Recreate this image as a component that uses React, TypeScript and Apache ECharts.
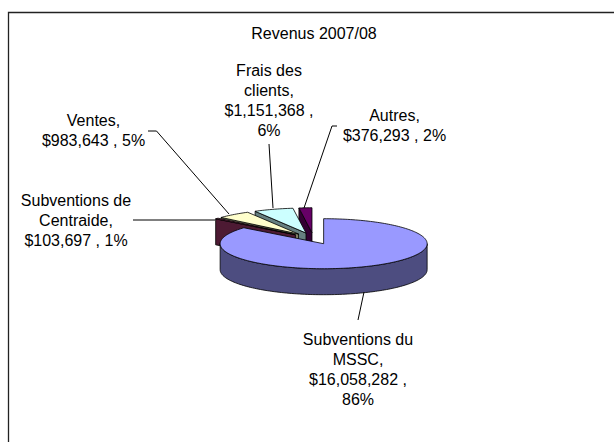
import React, { useEffect, useRef } from 'react';
import * as echarts from 'echarts';

// ---- data ----
const TITLE = 'Revenus 2007/08';
const CATEGORIES = [
  'Subventions du MSSC',
  'Subventions de Centraide',
  'Ventes',
  'Frais des clients',
  'Autres',
];
const VALUES = [16058282, 103697, 983643, 1151368, 376293];

// ---- styles / layout ----
const TOP_COLORS = ['#9999FF', '#993366', '#FFFFCC', '#CCFFFF', '#660066'];
const SIDE_COLORS = ['#4D4D80', '#4D1A33', '#808066', '#668080', '#330033'];
const LABEL_CENTERS = [
  [358, 369],
  [76, 220],
  [93.5, 130],
  [269, 100],
  [394.5, 125],
];
const LABEL_WIDTHS = [120, 115, 110, 105, 110];
const LEADERS = [
  [[364, 292], [358, 320]],
  [[133, 220], [215, 220]],
  [[148, 131], [156.5, 131], [229, 214]],
  [[269, 144], [273, 208]],
  [[337, 126], [332, 126], [304, 208]],
];

const CX = 313.5;
const CY = 238.5;
const RX = 103.5;
const RY = 25;
const DEPTH = 26;
const EXPLODE = 0.23;
const FONT_FAMILY = '"Liberation Sans", Arial, sans-serif';
const FONT_SIZE = 16;

const TOTAL = VALUES.reduce((a, b) => a + b, 0);

let measureCtx: CanvasRenderingContext2D | null = null;
function textWidth(s: string) {
  if (!measureCtx) {
    measureCtx = document.createElement('canvas').getContext('2d');
  }
  if (!measureCtx) return s.length * FONT_SIZE * 0.55;
  measureCtx.font = `${FONT_SIZE}px ${FONT_FAMILY}`;
  return measureCtx.measureText(s).width;
}

function wrap(text: string, width: number) {
  const words = text.split(' ');
  const lines: string[] = [];
  let cur = '';
  for (const w of words) {
    const cand = cur ? cur + ' ' + w : w;
    if (cur && textWidth(cand) > width) {
      lines.push(cur);
      cur = w;
    } else {
      cur = cand;
    }
  }
  if (cur) lines.push(cur);
  return lines.join('\n');
}

function sliceAngles(i: number) {
  let start = 0;
  for (let k = 0; k < i; k++) start += VALUES[k];
  const a0 = (start / TOTAL) * Math.PI * 2;
  const a1 = ((start + VALUES[i]) / TOTAL) * Math.PI * 2;
  return [a0, a1];
}

function renderItem(params: any, api: any) {
  const i = params.dataIndex;
  const value = api.value(0);
  const [a0, a1] = sliceAngles(i);
  const mid = (a0 + a1) / 2;

  // depth rank: back first
  const mids = VALUES.map((_, k) => {
    const [b0, b1] = sliceAngles(k);
    return -Math.cos((b0 + b1) / 2);
  });
  const sorted = mids
    .map((m, k) => [m, k])
    .sort((p, q) => p[0] - q[0])
    .map((p) => p[1]);
  const rank = sorted.indexOf(i);

  const ox = CX + EXPLODE * RX * Math.sin(mid);
  const oy = CY - EXPLODE * RY * Math.cos(mid);
  const pt = (t: number, dz: number) => [ox + RX * Math.sin(t), oy - RY * Math.cos(t) + dz];
  const arc = (from: number, to: number, dz: number) => {
    const n = Math.max(2, Math.ceil(Math.abs(to - from) / (Math.PI / 120)));
    const out: number[][] = [];
    for (let s = 0; s <= n; s++) out.push(pt(from + ((to - from) * s) / n, dz));
    return out;
  };

  const stroke = { stroke: '#000', lineWidth: 0.8, lineJoin: 'round' };
  const children: any[] = [];

  if (Math.sin(a0) < -1e-6) {
    children.push({
      type: 'polygon',
      z2: rank * 10 + 1,
      shape: { points: [[ox, oy], pt(a0, 0), pt(a0, DEPTH), [ox, oy + DEPTH]] },
      style: { fill: SIDE_COLORS[i], ...stroke },
    });
  }
  if (Math.sin(a1) > 1e-6) {
    children.push({
      type: 'polygon',
      z2: rank * 10 + 1,
      shape: { points: [[ox, oy], pt(a1, 0), pt(a1, DEPTH), [ox, oy + DEPTH]] },
      style: { fill: SIDE_COLORS[i], ...stroke },
    });
  }
  const s = Math.max(a0, Math.PI / 2);
  const e = Math.min(a1, (Math.PI * 3) / 2);
  if (e > s) {
    const pts = arc(s, e, 0).concat(arc(e, s, DEPTH));
    children.push({
      type: 'polygon',
      z2: rank * 10 + 2,
      shape: { points: pts },
      style: { fill: SIDE_COLORS[i], ...stroke },
    });
  }
  children.push({
    type: 'polygon',
    z2: rank * 10 + 3,
    shape: { points: [[ox, oy]].concat(arc(a0, a1, 0)) },
    style: { fill: TOP_COLORS[i], ...stroke },
  });

  const pct = Math.round((value / TOTAL) * 100);
  const raw = `${CATEGORIES[i]}, $${Number(value).toLocaleString('en-US')} , ${pct}%`;
  children.push({
    type: 'text',
    z2: 100,
    x: LABEL_CENTERS[i][0],
    y: LABEL_CENTERS[i][1],
    style: {
      text: wrap(raw, LABEL_WIDTHS[i]),
      fill: '#000',
      fontSize: FONT_SIZE,
      fontFamily: FONT_FAMILY,
      align: 'center',
      verticalAlign: 'middle',
      lineHeight: 20,
    },
  });
  children.push({
    type: 'polyline',
    z2: 99,
    shape: { points: LEADERS[i] },
    style: { stroke: '#000', lineWidth: 1, fill: 'none' },
  });

  return { type: 'group', children };
}

export default function App() {
  const ref = useRef<HTMLDivElement>(null);
  useEffect(() => {
    if (!ref.current) return;
    const chart = echarts.init(ref.current, null, { renderer: 'svg' });
    chart.setOption({
      animation: false,
      backgroundColor: '#ffffff',
      graphic: [
        {
          type: 'rect',
          shape: { x: 8.5, y: 12.5, width: 700, height: 600 },
          style: { fill: 'none', stroke: '#222', lineWidth: 1.3 },
          silent: true,
        },
        {
          type: 'text',
          x: 314,
          y: 33,
          style: {
            text: TITLE,
            fill: '#000',
            fontSize: FONT_SIZE,
            fontFamily: FONT_FAMILY,
            align: 'center',
            verticalAlign: 'middle',
          },
          silent: true,
        },
      ],
      series: [
        {
          type: 'custom',
          coordinateSystem: 'none',
          silent: true,
          data: VALUES.map((v) => [v]),
          renderItem,
        },
      ],
    });
    return () => chart.dispose();
  }, []);
  return (
    <div
      ref={ref}
      style={{ position: 'absolute', left: 0, top: 0, width: 614, height: 442 }}
    />
  );
}
